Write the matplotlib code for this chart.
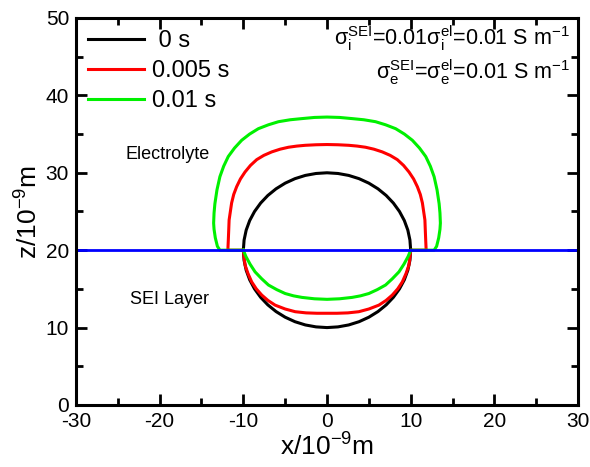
import matplotlib
matplotlib.use("Agg")
import matplotlib.pyplot as plt
from matplotlib.ticker import MultipleLocator

plt.rcParams['font.family'] = ['Liberation Sans', 'DejaVu Sans']
plt.rcParams['mathtext.fontset'] = 'custom'
plt.rcParams['mathtext.rm'] = 'Liberation Sans'
plt.rcParams['mathtext.it'] = 'Liberation Sans'
plt.rcParams['mathtext.default'] = 'regular'
plt.rcParams['axes.unicode_minus'] = False

# interface (z = 20)
line_x = [-30, 30]
line_z = [20, 20]

# 0 s : circle, r = 10 around (0, 20)
x_0s = [10, 9.91, 9.66, 9.24, 8.66, 7.93, 7.07, 6.09, 5, 3.83, 2.59, 1.31, 0,
        -1.31, -2.59, -3.83, -5, -6.09, -7.07, -7.93, -8.66, -9.24, -9.66, -9.91, -10,
        -9.91, -9.66, -9.24, -8.66, -7.93, -7.07, -6.09, -5, -3.83, -2.59, -1.31, 0,
        1.31, 2.59, 3.83, 5, 6.09, 7.07, 7.93, 8.66, 9.24, 9.66, 9.91, 10]
z_0s = [20, 21.31, 22.59, 23.83, 25, 26.09, 27.07, 27.93, 28.66, 29.24, 29.66, 29.91, 30,
        29.91, 29.66, 29.24, 28.66, 27.93, 27.07, 26.09, 25, 23.83, 22.59, 21.31, 20,
        18.69, 17.41, 16.17, 15, 13.91, 12.93, 12.07, 11.34, 10.76, 10.34, 10.09, 10,
        10.09, 10.34, 10.76, 11.34, 12.07, 12.93, 13.91, 15, 16.17, 17.41, 18.69, 20]

# 0.005 s
x_005 = [-10, -11.85, -11.8, -11.75, -11.7, -11.55, -11.4, -11.15, -10.8, -10.35, -9.8,
         -9.15, -8.4, -7.55, -6.6, -5.6, -4.6, -3.6, -2.6, -1.3, 0,
         1.3, 2.6, 3.6, 4.6, 5.6, 6.6, 7.55, 8.4, 9.15, 9.8,
         10.35, 10.8, 11.15, 11.4, 11.55, 11.7, 11.75, 11.8, 11.85, 10,
         9.9, 9.8, 9.45, 9.0, 8.45, 7.8, 7.05, 6.2, 5.0, 3.8, 2.5, 1.2, 0,
         -1.2, -2.5, -3.8, -5.0, -6.2, -7.05, -7.8, -8.45, -9.0, -9.45, -9.8, -9.9, -10]
z_005 = [20, 20, 21.2, 22.5, 23.9, 25.0, 26.1, 27.2, 28.2, 29.2, 30.1,
         30.95, 31.7, 32.25, 32.7, 33.05, 33.3, 33.45, 33.55, 33.62, 33.65,
         33.62, 33.55, 33.45, 33.3, 33.05, 32.7, 32.25, 31.7, 30.95, 30.1,
         29.2, 28.2, 27.2, 26.1, 25.0, 23.9, 22.5, 21.2, 20, 20,
         19.0, 18.1, 17.0, 15.9, 15.0, 14.2, 13.5, 12.9, 12.4, 12.05, 11.9, 11.85, 11.85,
         11.85, 11.9, 12.05, 12.4, 12.9, 13.5, 14.2, 15.0, 15.9, 17.0, 18.1, 19.0, 20]

# 0.01 s
x_01 = [-10, -12.8, -13.1, -13.35, -13.5, -13.55, -13.5, -13.4, -13.15, -12.8, -12.35,
        -11.8, -11.05, -10.2, -9.25, -8.2, -7.0, -5.8, -4.4, -3.0, -1.5, 0,
        1.5, 3.0, 4.4, 5.8, 7.0, 8.2, 9.25, 10.2, 11.05, 11.8,
        12.35, 12.8, 13.15, 13.4, 13.5, 13.55, 13.5, 13.35, 13.1, 12.8, 10,
        9.7, 9.2, 8.6, 7.8, 7.0, 6.0, 5.0, 4.0, 3.0, 1.5, 0,
        -1.5, -3.0, -4.0, -5.0, -6.0, -7.0, -7.8, -8.6, -9.2, -9.7, -10]
z_01 = [20, 20, 20.5, 21.6, 22.7, 23.5, 24.8, 26.0, 27.8, 29.5, 30.85,
        32.1, 33.2, 34.2, 35.0, 35.7, 36.2, 36.6, 36.85, 37.0, 37.15, 37.2,
        37.15, 37.0, 36.85, 36.6, 36.2, 35.7, 35.0, 34.2, 33.2, 32.1,
        30.85, 29.5, 27.8, 26.0, 24.8, 23.5, 22.7, 21.6, 20.5, 20, 20,
        19.2, 18.2, 17.2, 16.3, 15.5, 14.9, 14.4, 14.1, 13.9, 13.72, 13.65,
        13.72, 13.9, 14.1, 14.4, 14.9, 15.5, 16.3, 17.2, 18.2, 19.2, 20]

fig = plt.figure(figsize=(5.9, 4.67), dpi=100)
ax = fig.add_axes([0.1288, 0.1328, 0.8509, 0.8287])

ax.plot(x_0s, z_0s, '-', color='black', linewidth=2.2, label=' 0 s')
ax.plot(x_005, z_005, '-', color='#ff0000', linewidth=2.2, label='0.005 s')
ax.plot(x_01, z_01, '-', color='#00f000', linewidth=2.2, label='0.01 s')
ax.plot(line_x, line_z, '-', color='#0000ff', linewidth=2.0)

ax.set_xlim(-30, 30)
ax.set_ylim(0, 50)
ax.xaxis.set_major_locator(MultipleLocator(10))
ax.xaxis.set_minor_locator(MultipleLocator(5))
ax.yaxis.set_major_locator(MultipleLocator(10))
ax.yaxis.set_minor_locator(MultipleLocator(5))
ax.tick_params(which='both', direction='in', top=True, right=True, width=2, labelsize=15)
ax.tick_params(which='major', length=8, pad=5)
ax.tick_params(which='minor', length=5)
for s in ax.spines.values():
    s.set_linewidth(2.2)

ax.set_xlabel(r'x/10$^{-9}$m', fontsize=19, labelpad=2)
ax.set_ylabel(r'z/10$^{-9}$m', fontsize=19, labelpad=2)

ax.text(-19, 32.3, 'Electrolyte', fontsize=13, ha='center', va='center')
ax.text(-18.8, 13.6, 'SEI Layer', fontsize=13, ha='center', va='center')

ax.text(0.984, 0.930, r'$\sigma_i^{SEI}$=0.01$\sigma_i^{el}$=0.01 S m$^{-1}$',
        transform=ax.transAxes, fontsize=15.5, ha='right', va='baseline')
ax.text(0.984, 0.842, r'$\sigma_e^{SEI}$=$\sigma_e^{el}$=0.01 S m$^{-1}$',
        transform=ax.transAxes, fontsize=15.5, ha='right', va='baseline')

ax.legend(loc='upper left', frameon=False, fontsize=17, handlelength=2.4,
          handletextpad=0.3, labelspacing=0.35, borderaxespad=0.3, borderpad=0.2)

fig.savefig('out.png', dpi=100)
